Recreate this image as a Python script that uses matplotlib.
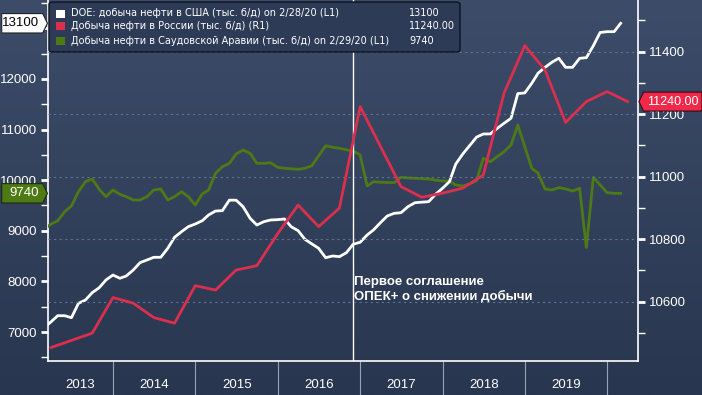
import matplotlib
matplotlib.use("Agg")
import matplotlib.pyplot as plt
import matplotlib.dates as mdates
import numpy as np
import pandas as pd
from matplotlib.path import Path
from matplotlib.patches import FancyBboxPatch, Rectangle
from matplotlib.colors import LinearSegmentedColormap
from matplotlib.transforms import blended_transform_factory
from matplotlib.ticker import MultipleLocator

# ---- data ----
# monthly, month end, Feb 2013 .. Feb 2020
months = pd.date_range("2013-02-28", periods=85, freq=pd.offsets.MonthEnd())

us_prod = [7080, 7200, 7322, 7322, 7283, 7567, 7632, 7777, 7875, 8028, 8126,
           8061, 8107, 8225, 8370, 8423, 8476, 8476, 8654, 8871, 8982, 9081,
           9134, 9199, 9312, 9391, 9397, 9605, 9605, 9476, 9247, 9114, 9180,
           9213, 9220, 9233, 9081, 9002, 8832, 8740, 8654, 8468, 8502, 8488,
           8567, 8733, 8773, 8917, 9016, 9160, 9292, 9345, 9357, 9476, 9555,
           9565, 9575, 9720, 9839, 9970, 10320, 10517, 10680, 10850, 10913,
           10913, 11025, 11124, 11223, 11711, 11724, 11915, 12114, 12230,
           12329, 12408, 12230, 12230, 12408, 12420, 12657, 12918, 12934,
           12934, 13100]

saudi_prod = [9030, 9130, 9199, 9377, 9490, 9772, 9970, 10023, 9820, 9674,
              9806, 9721, 9674, 9608, 9608, 9674, 9806, 9826, 9608, 9674,
              9772, 9674, 9510, 9727, 9806, 10136, 10266, 10333, 10517, 10596,
              10531, 10333, 10333, 10345, 10254, 10235, 10225, 10215, 10235,
              10286, 10480, 10681, 10650, 10630, 10600, 10577, 10498, 9885,
              9970, 9960, 9955, 9950, 10057, 10045, 10037, 10030, 10023, 10000,
              9984, 9980, 9905, 9885, 9924, 9990, 10432, 10365, 10464, 10563,
              10695, 11090, 10662, 10235, 10136, 9826, 9806, 9852, 9826, 9786,
              9839, 8672, 10057, 9905, 9753, 9740, 9740]

ru_dates = pd.to_datetime([
    "2013-03-31", "2013-09-30", "2013-12-31", "2014-03-31", "2014-06-30",
    "2014-09-30", "2014-12-31", "2015-03-31", "2015-06-30", "2015-09-30",
    "2015-12-31", "2016-03-31", "2016-06-30", "2016-09-30", "2016-12-31",
    "2017-06-30", "2017-09-30", "2017-12-31", "2018-03-31", "2018-06-30",
    "2018-09-30", "2018-12-31", "2019-03-31", "2019-06-30", "2019-09-30",
    "2019-12-31", "2020-03-31"])
ru_prod = [10453, 10499, 10613, 10595, 10549, 10531, 10651, 10637, 10701,
           10715, 10817, 10909, 10840, 10899, 11224, 10968, 10934, 10947,
           10963, 11005, 11267, 11419, 11341, 11173, 11240, 11272, 11240]

legend_labels = ["DOE: добыча нефти в США (тыс. б/д) on 2/28/20 (L1)",
                 "Добыча нефти в России (тыс. б/д) (R1)",
                 "Добыча нефти в Саудовской Аравии (тыс. б/д) on 2/29/20 (L1)"]
year_labels = [2013, 2014, 2015, 2016, 2017, 2018, 2019]
opec_date = pd.Timestamp("2016-11-30")
opec_text = "Первое соглашение\nОПЕК+ о снижении добычи"

# ---- style ----
BG_TOP, BG_BOT = "#3d4c69", "#28364f"
WHITE, RED, GREEN = "#ffffff", "#dc2f4e", "#4d7a14"
TAG_RED = "#f0284a"
GRID = "#5d7393"
W, H = 702, 395
FONT = "Liberation Sans"

fig = plt.figure(figsize=(W / 100, H / 100), dpi=100)

# gradient background
bg = fig.add_axes([0, 0, 1, 1], zorder=0)
grad = np.linspace(0, 1, 256).reshape(-1, 1)
bg.imshow(grad, aspect="auto", extent=[0, 1, 0, 1],
          cmap=LinearSegmentedColormap.from_list("bg", [BG_TOP, BG_BOT]))
bg.axis("off")

ax = fig.add_axes([48 / W, 34 / H, 590 / W, 361 / H], zorder=1)
ax.patch.set_alpha(0)
ax2 = ax.twinx()

ax.plot(months, saudi_prod, color=GREEN, lw=2, zorder=3)
ax.plot(months, us_prod, color=WHITE, lw=2, zorder=4)
ax2.plot(ru_dates, ru_prod, color=RED, lw=2, zorder=3)

ax.set_xlim(pd.Timestamp("2013-03-18"), pd.Timestamp("2020-05-16"))
ax.set_ylim(6427, 13560)
ax2.set_ylim(10410, 11565)

# ticks
ax.yaxis.set_major_locator(MultipleLocator(1000))
ax.yaxis.set_minor_locator(MultipleLocator(500))
ax2.yaxis.set_major_locator(MultipleLocator(200))
ax2.yaxis.set_minor_locator(MultipleLocator(100))
for a in (ax, ax2):
    a.tick_params(axis="y", which="major", length=5, width=2, color=WHITE,
                  labelcolor=WHITE, labelsize=9.5, pad=3)
    a.tick_params(axis="y", which="minor", length=5, width=1, color=WHITE)
    for lab in a.get_yticklabels():
        lab.set_fontfamily(FONT)
    for s in a.spines.values():
        s.set_visible(False)
ax.spines["left"].set_visible(True)
ax.spines["bottom"].set_visible(True)
ax2.spines["right"].set_visible(True)
for s in (ax.spines["left"], ax.spines["bottom"], ax2.spines["right"]):
    s.set_color(WHITE)
    s.set_linewidth(1.2)

ax.xaxis.set_major_locator(mdates.YearLocator())
ax.xaxis.set_minor_locator(mdates.YearLocator(2))
ax.tick_params(axis="x", which="major", length=24.5, width=0.8,
               color="#9aa3b4", labelbottom=False)
ax.tick_params(axis="x", which="minor", length=0, labelbottom=False)
ax.grid(axis="x", which="minor", color=GRID, ls=(0, (2, 3)), lw=0.8)
ax2.grid(axis="y", which="major", color=GRID, ls=(0, (2, 3)), lw=0.8)

# year labels centred in the visible part of each year
x0, x1 = ax.get_xlim()
ytrans = blended_transform_factory(ax.transData, fig.transFigure)
for yr in year_labels:
    lo = max(mdates.date2num(pd.Timestamp(f"{yr}-01-01")), x0)
    hi = min(mdates.date2num(pd.Timestamp(f"{yr + 1}-01-01")), x1)
    fig.text((lo + hi) / 2, 10 / H, str(yr), transform=ytrans, ha="center",
             va="center", color=WHITE, fontsize=9.5, fontfamily=FONT)

# OPEC+ line and note
ax.axvline(opec_date, color=WHITE, lw=1, zorder=5)
note_tr = blended_transform_factory(ax.transData, ax.transAxes)
ax.text(mdates.date2num(opec_date) + 3, 0.198, opec_text, transform=note_tr,
        ha="left", va="center", fontsize=9.5, fontweight="bold",
        fontfamily=FONT, color=WHITE, linespacing=1.15, zorder=6)


# value tags with a pointed end
def tag_style(direction, fixed_width=None):
    def style(x0, y0, width, height, mutation_size):
        pad = 0.28 * mutation_size
        tip = 0.36 * mutation_size
        bx0, by0 = x0 - pad, y0 - pad
        bx1, by1 = x0 + width + pad, y0 + height + pad
        if fixed_width is not None:
            if direction == "right":
                bx0 = bx1 - fixed_width
            else:
                bx1 = bx0 + fixed_width
        ym = (by0 + by1) / 2
        if direction == "right":
            verts = [(bx0, by0), (bx1, by0), (bx1 + tip, ym), (bx1, by1),
                     (bx0, by1), (bx0, by0)]
        else:
            verts = [(bx0, by0), (bx1, by0), (bx1, by1), (bx0, by1),
                     (bx0 - tip, ym), (bx0, by0)]
        return Path(verts, closed=True)
    return style


left_tr = blended_transform_factory(ax.transAxes, ax.transData)
right_tr = blended_transform_factory(ax2.transAxes, ax2.transData)
ax.annotate(f"{us_prod[-1]}", xy=(0, us_prod[-1]), xycoords=left_tr,
            xytext=(-9, 0), textcoords="offset pixels", ha="right",
            va="center", fontsize=9.5, fontfamily=FONT, color="black",
            annotation_clip=False, zorder=10,
            bbox=dict(boxstyle=tag_style("right", 41), fc=WHITE, ec="#222222",
                      lw=0.8))
ax.annotate(f"{saudi_prod[-1]}", xy=(0, saudi_prod[-1]), xycoords=left_tr,
            xytext=(-9, 0), textcoords="offset pixels", ha="right",
            va="center", fontsize=9.5, fontfamily=FONT, color=WHITE,
            annotation_clip=False, zorder=10,
            bbox=dict(boxstyle=tag_style("right", 41), fc=GREEN, ec="#1c2a0a",
                      lw=0.8))
ax2.annotate(f"{ru_prod[-1]:.2f}", xy=(1, ru_prod[-1]), xycoords=right_tr,
             xytext=(9, 0), textcoords="offset pixels", ha="left",
             va="center", fontsize=9, fontfamily=FONT, color=WHITE,
             annotation_clip=False, zorder=10,
             bbox=dict(boxstyle=tag_style("left"), fc=TAG_RED, ec="#3a0a12",
                       lw=0.8))

# legend box
fig.patches.append(FancyBboxPatch((49 / W, 1 - 52 / H), 411 / W, 50 / H,
                                  boxstyle="round,pad=0,rounding_size=0.006",
                                  transform=fig.transFigure, fc="#2d3b57",
                                  ec="#0d1220", lw=1, zorder=20))
leg_colors = [WHITE, RED, GREEN]
leg_values = [f"{us_prod[-1]}", f"{ru_prod[-1]:.2f}", f"{saudi_prod[-1]}"]
leg_rows = [13.5, 26, 40.5]
for lab, col, val, row in zip(legend_labels, leg_colors, leg_values, leg_rows):
    yc = 1 - row / H
    fig.patches.append(Rectangle((56 / W, yc - 4 / H), 9 / W, 8 / H,
                                 transform=fig.transFigure, fc=col, ec="none",
                                 zorder=21))
    fig.text(71 / W, yc, lab, color=WHITE, fontsize=7, va="center",
             fontfamily="DejaVu Sans", zorder=22)
    fig.text(409 / W, yc, val, color=WHITE, fontsize=7, va="center",
             fontfamily="DejaVu Sans", zorder=22)

fig.savefig("out.png", dpi=100, facecolor=BG_BOT)
